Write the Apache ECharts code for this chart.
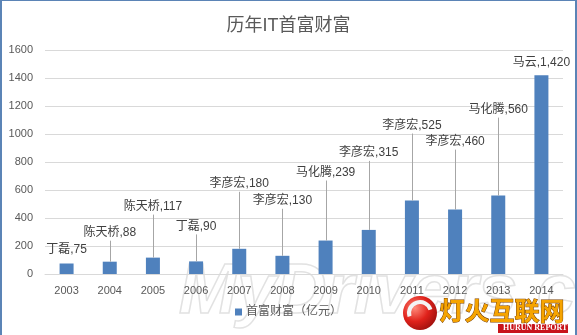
<!DOCTYPE html>
<html>
<head>
<meta charset="utf-8">
<script src="https://cdn.jsdelivr.net/npm/echarts@6/dist/echarts.min.js"></script>
<style>
  html, body { margin: 0; padding: 0; background: #fff; }
  #chart { width: 577px; height: 335px; }
</style>
</head>
<body>
<div id="chart"></div>
<script>
// Richest person in Chinese IT, by year (wealth in 100 million yuan)
const years = ['2003', '2004', '2005', '2006', '2007', '2008', '2009', '2010', '2011', '2012', '2013', '2014'];
const richest = ['丁磊', '陈天桥', '陈天桥', '丁磊', '李彦宏', '李彦宏', '马化腾', '李彦宏', '李彦宏', '李彦宏', '马化腾', '马云'];
const wealth = [75, 88, 117, 90, 180, 130, 239, 315, 525, 460, 560, 1420];
const yTicks = { min: 0, max: 1600, interval: 200 };
const seriesName = '首富财富（亿元）';

// How far (px) each callout sits above its bar; tall lifts get a leader line
const calloutLift = [14, 29, 51, 35, 65, 55, 68, 77, 75, 68, 86, 13];

const FONT = '"Liberation Sans", "Noto Sans CJK SC", sans-serif';
const chart = echarts.init(document.getElementById('chart'), null, { renderer: 'canvas' });

chart.setOption({
  backgroundColor: '#ffffff',
  animation: false,
  title: {
    text: '历年IT首富财富',
    left: 'center',
    top: 12,
    textStyle: { fontFamily: FONT, fontSize: 18, fontWeight: 'normal', color: '#595959' }
  },
  legend: {
    bottom: 12,
    left: 'center',
    itemWidth: 7,
    itemHeight: 7,
    itemGap: 4,
    icon: 'rect',
    data: [seriesName],
    textStyle: { fontFamily: FONT, fontSize: 12, color: '#595959', padding: [0, 0, 0, -1] }
  },
  grid: { left: 45, right: 14, top: 50, bottom: 61, containLabel: false },
  xAxis: {
    type: 'category',
    data: years,
    axisLine: { lineStyle: { color: '#d9d9d9' } },
    axisTick: { show: false },
    axisLabel: { fontFamily: FONT, fontSize: 11, color: '#595959', margin: 11 }
  },
  yAxis: {
    type: 'value',
    min: yTicks.min,
    max: yTicks.max,
    interval: yTicks.interval,
    axisLine: { show: false },
    axisTick: { show: false },
    splitLine: { lineStyle: { color: '#d9d9d9' } },
    axisLabel: {
      fontFamily: FONT, fontSize: 11, color: '#595959', margin: 12,
      formatter: function (v) { return String(v); }
    }
  },
  graphic: [
    // outer frame (left, top, right edges)
    { type: 'rect', z: 100, shape: { x: 0, y: 0, width: 2, height: 335 }, style: { fill: '#5b84b6' } },
    { type: 'rect', z: 100, shape: { x: 0, y: 0, width: 577, height: 1 }, style: { fill: '#5b84b6' } },
    { type: 'rect', z: 100, shape: { x: 575, y: 0, width: 2, height: 335 }, style: { fill: '#5b84b6' } },
    // site watermark
    {
      type: 'text', z: -10, left: 178, top: 258,
      style: { text: 'MyDrivers.com', font: 'italic bold 70px "Liberation Sans", sans-serif',
               fill: 'rgba(255,255,255,0)', stroke: '#e2e2e2', lineWidth: 1.5 }
    },
    // logo: sphere
    {
      type: 'circle', z: 50, shape: { cx: 420, cy: 313, r: 17 },
      style: { fill: new echarts.graphic.RadialGradient(0.35, 0.35, 0.8, [
        { offset: 0, color: '#ff8a7a' }, { offset: 0.5, color: '#e0221b' }, { offset: 1, color: '#8e0c0a' }]) }
    },
    {
      type: 'arc', z: 51, shape: { cx: 420, cy: 313, r: 11, startAngle: Math.PI * 0.9, endAngle: Math.PI * 1.9 },
      style: { stroke: '#f4f4f4', lineWidth: 4, fill: null }
    },
    {
      type: 'text', z: 50, left: 439, top: 297,
      style: { text: '灯火互联网', font: 'bold 25px "Noto Sans CJK SC", sans-serif',
               fill: '#f6a400', stroke: '#7a3f00', lineWidth: 1 }
    },
    { type: 'rect', z: 50, shape: { x: 498, y: 324, width: 70, height: 9 }, style: { fill: '#c8141a' } },
    {
      type: 'text', z: 51, left: 503, top: 324,
      style: { text: 'HURUN REPORT', font: 'bold 8px "Liberation Serif", serif', fill: '#ffffff' }
    }
  ],
  series: [
    {
      name: seriesName,
      type: 'bar',
      data: wealth,
      barWidth: 14,
      itemStyle: { color: '#4f81bd' },
      z: 2
    },
    {
      // callouts: "name,value" text with a grey leader line down to the bar top
      type: 'custom',
      coordinateSystem: 'cartesian2d',
      data: wealth.map((v, i) => [i, v]),
      z: 3,
      silent: true,
      renderItem: function (params, api) {
        const i = params.dataIndex;
        const top = api.coord([api.value(0), api.value(1)]);
        const lift = calloutLift[i];
        const cy = top[1] - lift;
        const x = Math.round(top[0]) + 0.5;
        const children = [];
        if (lift > 20) {
          children.push({
            type: 'line',
            shape: { x1: x, y1: cy + 8, x2: x, y2: top[1] },
            style: { stroke: '#a6a6a6', lineWidth: 1 }
          });
        }
        children.push({
          type: 'text',
          style: {
            text: richest[i] + ',' + wealth[i].toLocaleString('en-US'),
            x: top[0], y: cy,
            align: 'center', verticalAlign: 'middle',
            fill: '#404040',
            font: '12px ' + FONT
          }
        });
        return { type: 'group', children: children };
      }
    }
  ]
});
</script>
</body>
</html>
